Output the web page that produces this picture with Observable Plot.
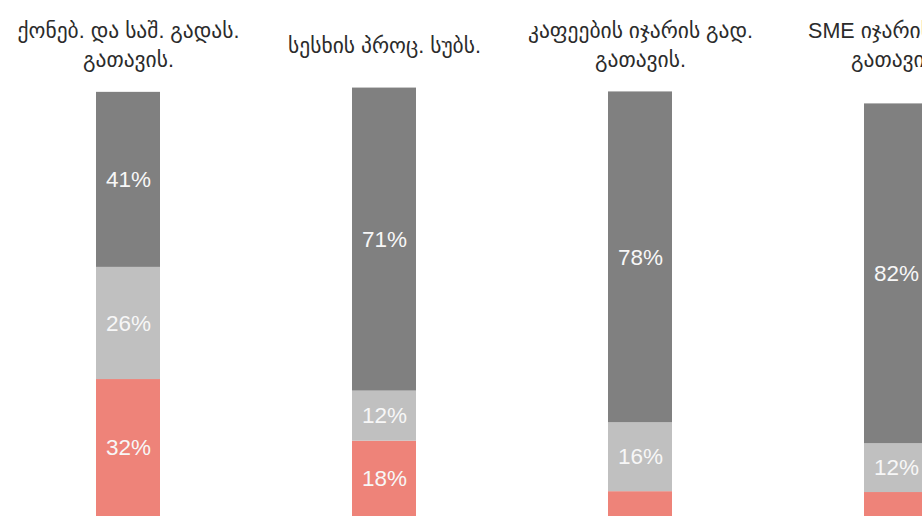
<!DOCTYPE html>
<html>
<head>
<meta charset="utf-8">
<script src="https://cdn.jsdelivr.net/npm/d3@7"></script>
<script src="https://cdn.jsdelivr.net/npm/@observablehq/plot@0.6"></script>
<style>
  html, body { margin: 0; padding: 0; background: #fff; overflow: hidden; }
  #chart svg { display: block; }
</style>
</head>
<body>
<div id="chart"></div>
<script>
// Categories (facet titles)
const categories = [
  "ქონებ. და საშ. გადას.\nგათავის.",
  "სესხის პროც. სუბს.",
  "კაფეების იჯარის გად.\nგათავის.",
  "SME იჯარის გად.\nგათავის."
];
// Series values (percent), bottom to top
const seriesNames = ["red", "light", "dark"];
const redValues   = [32.0, 17.6, 5.8, 5.6];
const lightValues = [26.2, 11.7, 16.1, 11.4];
const darkValues  = [40.9, 70.8, 77.3, 79.4];
// Labels printed inside the segments
const redLabels   = ["32%", "18%", "", ""];
const lightLabels = ["26%", "12%", "16%", "12%"];
const darkLabels  = ["41%", "71%", "78%", "82%"];
const seriesColors = ["#ee8379", "#c0c0c0", "#808080"];

const valuesBySeries = [redValues, lightValues, darkValues];
const labelsBySeries = [redLabels, lightLabels, darkLabels];
const data = [];
categories.forEach((c, i) => {
  seriesNames.forEach((s, j) => {
    data.push({cat: c, series: s, value: valuesBySeries[j][i], label: labelsBySeries[j][i]});
  });
});

const font = "'Liberation Sans', 'DejaVu Sans', sans-serif";

const chart = Plot.plot({
  width: 922,
  height: 524,
  marginTop: 0, marginBottom: 0, marginLeft: 0, marginRight: 0,
  style: {fontFamily: font, background: "#fff", overflow: "hidden"},
  x: {domain: categories, range: [-1.25, 1024.75], paddingInner: 0.75, paddingOuter: 0.375, axis: null},
  y: {domain: [0, 100], range: [516, 88], axis: null},
  color: {domain: seriesNames, range: seriesColors},
  marks: [
    Plot.barY(data, Plot.stackY({x: "cat", y: "value", fill: "series", z: "series"})),
    Plot.text(data, Plot.stackY({
      x: "cat", y: "value", z: "series", text: "label",
      fill: "#f7f7f7", fontSize: 22.5, fontFamily: font
    })),
    Plot.text(categories, {
      x: d => d, text: d => d, frameAnchor: "top", dy: 43,
      lineAnchor: "middle", lineHeight: 1.32,
      fontSize: 21.5, fill: "#2b2b2b", fontFamily: font
    })
  ]
});
document.getElementById("chart").appendChild(chart);
</script>
</body>
</html>
